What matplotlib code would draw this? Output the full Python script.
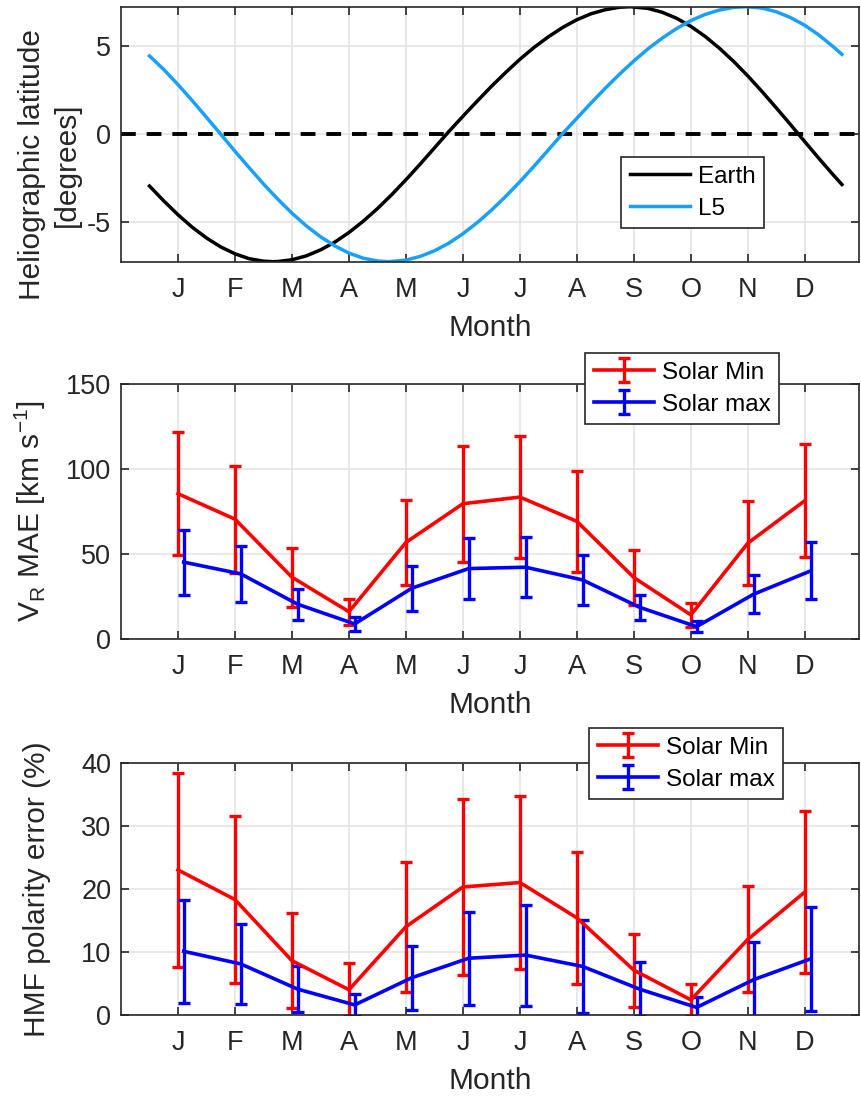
# 日面纬度 + 预报误差随月份变化 (三联图)
import numpy as np
import matplotlib
import matplotlib.pyplot as plt

matplotlib.use('Agg')
plt.rcParams['font.family'] = ['Liberation Sans', 'DejaVu Sans']
plt.rcParams['axes.unicode_minus'] = False
plt.rcParams['mathtext.fontset'] = 'custom'
plt.rcParams['mathtext.rm'] = 'Liberation Sans'

# 月份刻度
months = np.arange(1, 13)
month_labels = ['J', 'F', 'M', 'A', 'M', 'J', 'J', 'A', 'S', 'O', 'N', 'D']

# 日面纬度 (度)
earth_x = [0.5, 0.75, 1.0, 1.25, 1.5, 1.75, 2.0, 2.25, 2.5, 2.66, 2.75, 3.0, 3.25,
           3.5, 3.75, 4.0, 4.25, 4.5, 4.75, 5.0, 5.25, 5.5, 5.75, 6.0, 6.25, 6.5,
           6.75, 7.0, 7.25, 7.5, 7.75, 8.0, 8.25, 8.5, 8.75, 8.94, 9.25, 9.5, 9.75,
           10.0, 10.25, 10.5, 10.75, 11.0, 11.25, 11.5, 11.75, 12.0, 12.25, 12.5, 12.65]
earth_lat = [-2.95, -3.79, -4.58, -5.29, -5.90, -6.41, -6.80, -7.08, -7.22, -7.25,
             -7.24, -7.14, -6.92, -6.58, -6.14, -5.59, -4.95, -4.23, -3.44, -2.59,
             -1.70, -0.78, 0.14, 1.02, 1.88, 2.72, 3.51, 4.26, 4.94, 5.54, 6.07,
             6.51, 6.85, 7.08, 7.22, 7.25, 7.15, 6.93, 6.59, 6.13, 5.56, 4.89, 4.14,
             3.31, 2.42, 1.49, 0.54, -0.43, -1.39, -2.32, -2.86]
l5_x = [0.5, 0.75, 1.0, 1.25, 1.5, 1.75, 2.0, 2.25, 2.5, 2.75, 3.0, 3.25, 3.5, 3.75,
        4.0, 4.25, 4.5, 4.69, 5.0, 5.25, 5.5, 5.75, 6.0, 6.25, 6.5, 6.75, 7.0, 7.25,
        7.5, 7.75, 8.0, 8.25, 8.5, 8.75, 9.0, 9.25, 9.5, 9.75, 10.0, 10.25, 10.5,
        10.75, 10.97, 11.25, 11.5, 11.75, 12.0, 12.25, 12.5, 12.65]
l5_lat = [4.45, 3.68, 2.82, 1.91, 0.96, 0.00, -0.97, -1.91, -2.83, -3.69, -4.49,
          -5.21, -5.83, -6.35, -6.76, -7.05, -7.21, -7.25, -7.16, -6.95, -6.63,
          -6.20, -5.66, -5.03, -4.32, -3.54, -2.70, -1.81, -0.89, 0.04, 0.91, 1.78,
          2.62, 3.42, 4.17, 4.86, 5.47, 6.01, 6.46, 6.81, 7.06, 7.21, 7.25, 7.17,
          6.96, 6.63, 6.19, 5.63, 4.97, 4.54]

# V_R MAE [km/s]
min_mae = [85.4, 70.4, 36.2, 15.9, 56.7, 79.5, 83.4, 69.1, 36.0, 14.0, 56.3, 81.3]
min_mae_err = [36.4, 31.5, 17.5, 7.7, 25.0, 34.1, 35.7, 29.7, 16.0, 7.2, 24.9, 33.3]
max_mae = [45.1, 38.2, 20.3, 8.7, 29.7, 41.3, 42.1, 34.6, 18.5, 7.1, 26.2, 39.9]
max_mae_err = [19.2, 16.5, 9.0, 4.2, 13.1, 17.8, 17.7, 14.5, 7.4, 3.3, 11.2, 16.8]

# HMF 极性误差 (%)
min_hmf = [23.0, 18.3, 8.6, 4.0, 14.0, 20.3, 21.0, 15.4, 7.1, 2.4, 12.0, 19.5]
min_hmf_err = [15.4, 13.2, 7.5, 4.2, 10.3, 14.0, 13.7, 10.5, 5.8, 2.5, 8.4, 12.8]
max_hmf = [10.1, 8.1, 4.1, 1.6, 5.9, 9.0, 9.5, 7.7, 4.1, 1.2, 5.6, 8.9]
max_hmf_err = [8.2, 6.4, 3.6, 1.8, 5.1, 7.4, 8.0, 7.4, 4.3, 1.7, 5.9, 8.2]

max_offset = 0.1  # 蓝色误差棒右移, 避免重叠

TXT = '#262626'
W, H = 862, 1100


def style_axes(ax):
    ax.set_xlim(0, 12.95)
    ax.set_xticks(months)
    ax.set_xticklabels(month_labels)
    ax.tick_params(direction='in', top=True, right=True, length=6, width=1.2,
                   colors=TXT, labelsize=19.5)
    ax.tick_params(axis='x', pad=11)
    ax.tick_params(axis='y', pad=7)
    for s in ax.spines.values():
        s.set_color(TXT)
        s.set_linewidth(1.2)
    ax.grid(True, color='#e1e1e1', lw=1.1)
    ax.set_axisbelow(True)
    ax.set_xlabel('Month', fontsize=21.5, color=TXT, labelpad=8)


def add_legend(ax, handles, labels, x0, y0):
    leg = ax.legend(handles, labels, loc='upper left',
                    bbox_to_anchor=(x0 / W, 1 - y0 / H),
                    bbox_transform=fig.transFigure, borderaxespad=0,
                    fontsize=17.5, fancybox=False, framealpha=1,
                    handlelength=2.5, handletextpad=0.3, borderpad=0.35,
                    labelspacing=0.42)
    leg.get_frame().set_edgecolor(TXT)
    leg.get_frame().set_linewidth(1.2)
    return leg


fig = plt.figure(figsize=(W / 100, H / 100), dpi=100)
left = 121 / W
width = (859 - 121) / W
ax1 = fig.add_axes([left, 1 - 261.7 / H, width, 255 / H])
ax2 = fig.add_axes([left, 1 - 638.7 / H, width, 254.7 / H])
ax3 = fig.add_axes([left, 1 - 1015 / H, width, 252.3 / H])

# 上图: 日面纬度
ax1.axhline(0, color='black', lw=2.8, dashes=(3.8, 2.8))
l_e, = ax1.plot(earth_x, earth_lat, color='black', lw=2.5)
l_l5, = ax1.plot(l5_x, l5_lat, color='#18A0FB', lw=2.5)
ax1.set_ylim(-7.25, 7.25)
ax1.set_yticks([-5, 0, 5])
style_axes(ax1)
ax1.set_ylabel('Heliographic latitude\n[degrees]', fontsize=21.5, color=TXT,
               linespacing=1.3)
ax1.yaxis.set_label_coords((81 - 121) / 738, 0.381)
add_legend(ax1, [l_e, l_l5], ['Earth', 'L5'], 621, 157)

# 中图和下图: 误差棒
eb_kw = dict(lw=2.6, elinewidth=2.4, capsize=4, capthick=2.4)
handles = {}
for ax, ymin, emin, ymax, emax in [(ax2, min_mae, min_mae_err, max_mae, max_mae_err),
                                   (ax3, min_hmf, min_hmf_err, max_hmf, max_hmf_err)]:
    h1 = ax.errorbar(months, ymin, yerr=emin, color='red', **eb_kw)
    h2 = ax.errorbar(months + max_offset, ymax, yerr=emax, color='blue', **eb_kw)
    style_axes(ax)
    handles[ax] = [h1, h2]

ax2.set_ylim(0, 150)
ax2.set_yticks([0, 50, 100, 150])
ax2.set_ylabel(r'V$_\mathregular{R}$ MAE [km s$^\mathregular{-1}$]', fontsize=21.5, color=TXT)
ax2.yaxis.set_label_coords((48 - 121) / 738, 0.5)
add_legend(ax2, handles[ax2], ['Solar Min', 'Solar max'], 585, 353)

ax3.set_ylim(0, 40)
ax3.set_yticks([0, 10, 20, 30, 40])
ax3.set_ylabel('HMF polarity error (%)', fontsize=21.5, color=TXT)
ax3.yaxis.set_label_coords((51 - 121) / 738, 0.5)
add_legend(ax3, handles[ax3], ['Solar Min', 'Solar max'], 589, 728)

fig.savefig('out.png', dpi=100)
plt.close()
